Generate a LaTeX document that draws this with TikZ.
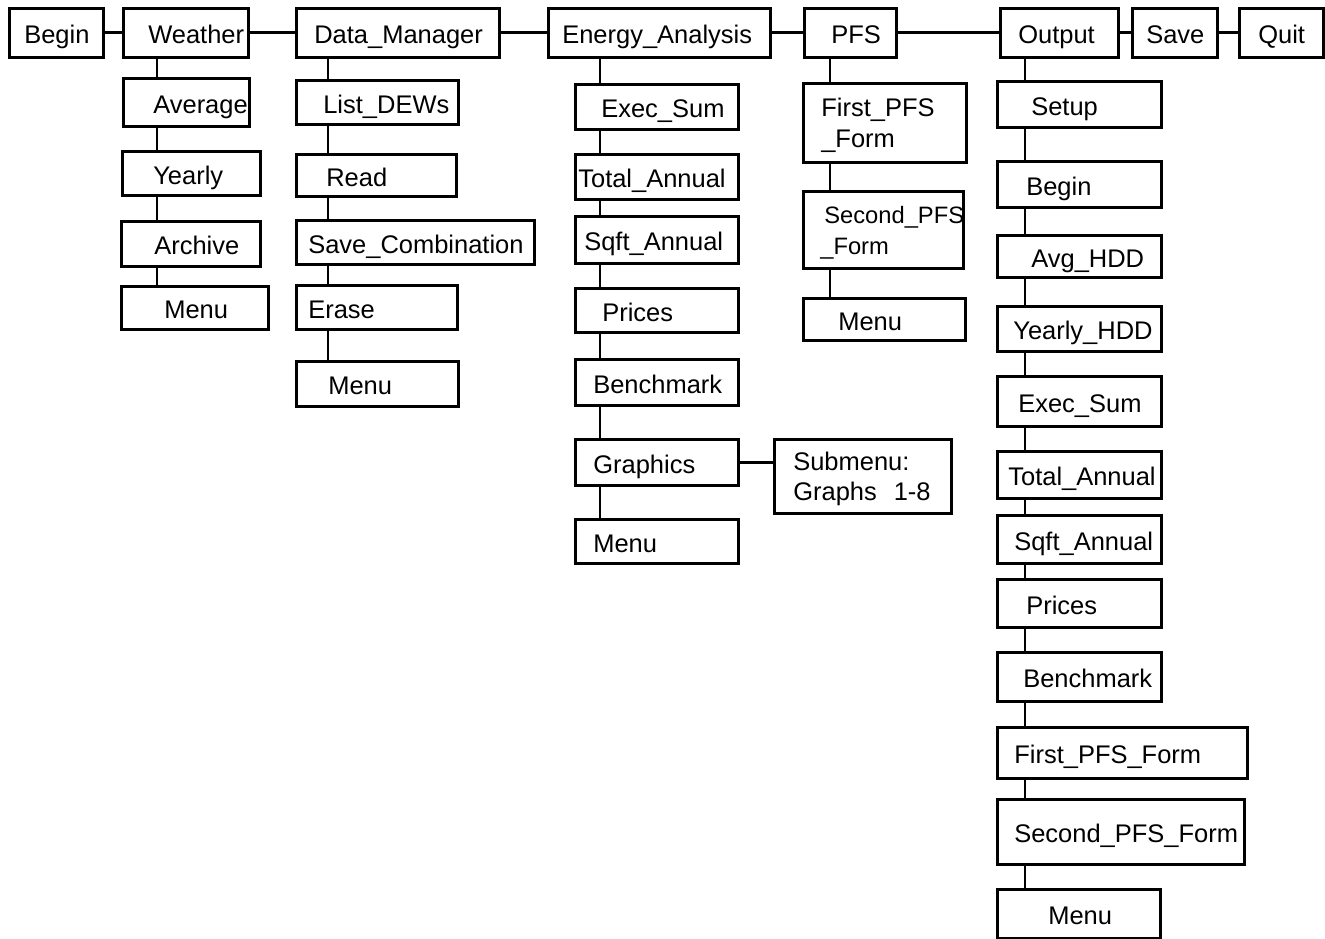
\documentclass[tikz,border=0pt]{standalone}
\usepackage{fontspec}
\setmainfont{Liberation Sans}

\newlength\px
\setlength\px{0.02cm}
\newcommand\boxind[1]{\hspace*{#1\px}}

\tikzset{
    menubox/.style={draw, line width=1.5pt, inner sep=0pt, anchor=north west,
        align=left, font=\fontsize{14.5}{17.5}\selectfont,
        text height=12.5pt, text depth=0pt},
    twolines/.style={text height=13.5pt, text depth=},
    boxdim/.code 2 args={%
        \pgfmathsetlengthmacro\mbw{#1*0.02cm}%
        \pgfmathsetlengthmacro\mbh{#2*0.02cm}%
        \edef\mbset{\noexpand\pgfkeysalso{minimum width=\mbw, minimum height=\mbh, text width=\mbw}}%
        \mbset},
    link/.style={line width=1.5pt}
}

\begin{document}
\begin{tikzpicture}[x=0.02cm, y=-0.02cm]
\useasboundingbox (0,0) rectangle (1325,939);

% main menu row
\node[menubox, boxdim={94}{49}]  (begin)   at (8,7)    {\boxind{15}Begin};
\node[menubox, boxdim={125}{49}] (weather) at (122,7)  {\boxind{25}Weather};
\node[menubox, boxdim={203}{49}] (dataman) at (295,7)  {\boxind{18}Data\_Manager};
\node[menubox, boxdim={222}{49}] (energy)  at (547,7)  {\boxind{14}Energy\_Analysis};
\node[menubox, boxdim={92}{49}]  (pfs)     at (803,7)  {\boxind{27}PFS};
\node[menubox, boxdim={118}{49}] (output)  at (999,7)  {\boxind{18}Output};
\node[menubox, boxdim={85}{49}]  (save)    at (1131,7) {\boxind{14}Save};
\node[menubox, boxdim={84}{49}]  (quit)    at (1238,7) {\boxind{19}Quit};

% Weather
\node[menubox, boxdim={126}{48}] (average) at (122,77)  {\boxind{30}Average};
\node[menubox, boxdim={138}{44}] (yearly)  at (121,150) {\boxind{31}Yearly};
\node[menubox, boxdim={139}{45}] (archive) at (120,220) {\boxind{33}Archive};
\node[menubox, boxdim={147}{43}] (wmenu)   at (120,285) {\boxind{43}Menu};

% Data_Manager
\node[menubox, boxdim={162}{44}] (listdews) at (295,79)  {\boxind{27}List\_DEWs};
\node[menubox, boxdim={160}{42}] (read)     at (295,153) {\boxind{30}Read};
\node[menubox, boxdim={238}{44}] (savecomb) at (295,219) {\boxind{12}Save\_Combination};
\node[menubox, boxdim={161}{44}] (erase)    at (295,284) {\boxind{12}Erase};
\node[menubox, boxdim={162}{45}] (dmenu)    at (295,360) {\boxind{32}Menu};

% Energy_Analysis
\node[menubox, boxdim={163}{45}] (eexec)   at (574,83)  {\boxind{26}Exec\_Sum};
\node[menubox, boxdim={163}{45}] (etotal)  at (574,153) {\boxind{3}Total\_Annual};
\node[menubox, boxdim={163}{47}] (esqft)   at (574,215) {\boxind{9}Sqft\_Annual};
\node[menubox, boxdim={163}{44}] (eprices) at (574,287) {\boxind{27}Prices};
\node[menubox, boxdim={163}{46}] (ebench)  at (574,358) {\boxind{18}Benchmark};
\node[menubox, boxdim={163}{46}] (egraph)  at (574,438) {\boxind{18}Graphics};
\node[menubox, boxdim={163}{44}] (emenu)   at (574,518) {\boxind{18}Menu};
\node[menubox, twolines, boxdim={177}{74}] (submenu) at (773,438)
    {\boxind{19}Submenu:\\\boxind{19}Graphs~~1-8};

% PFS
\node[menubox, twolines, boxdim={163}{79}] (pfirst) at (802,82)
    {\boxind{18}\mbox{First\_PFS}\\\boxind{18}\_Form};
\node[menubox, twolines, boxdim={160}{77}, font=\fontsize{13.5}{17.5}\selectfont] (psecond) at (802,190)
    {\boxind{21}\mbox{Second\_PFS}\\\boxind{17}\_Form};
\node[menubox, boxdim={162}{42}] (pmenu)   at (802,297) {\boxind{35}Menu};

% Output
\node[menubox, boxdim={164}{46}] (osetup)  at (996,80)  {\boxind{34}Setup};
\node[menubox, boxdim={164}{46}] (obegin)  at (996,160) {\boxind{29}Begin};
\node[menubox, boxdim={164}{42}] (oavg)    at (996,234) {\boxind{34}Avg\_HDD};
\node[menubox, boxdim={164}{45}] (oyearly) at (996,305) {\boxind{16}Yearly\_HDD};
\node[menubox, boxdim={164}{50}] (oexec)   at (996,375) {\boxind{21}Exec\_Sum};
\node[menubox, boxdim={164}{47}] (ototal)  at (996,450) {\boxind{11}Total\_Annual};
\node[menubox, boxdim={164}{48}] (osqft)   at (996,514) {\boxind{17}Sqft\_Annual};
\node[menubox, boxdim={164}{48}] (oprices) at (996,578) {\boxind{29}Prices};
\node[menubox, boxdim={164}{49}] (obench)  at (996,651) {\boxind{26}Benchmark};
\node[menubox, boxdim={250}{51}] (ofirst)  at (996,726) {\boxind{17}First\_PFS\_Form};
\node[menubox, boxdim={247}{65}] (osecond) at (996,798) {\boxind{17}Second\_PFS\_Form};
\node[menubox, boxdim={163}{49}] (omenu)   at (996,888) {\boxind{51}Menu};

% column lines
\coordinate (wcol) at (157,0);
\coordinate (dcol) at (328,0);
\coordinate (ecol) at (600,0);
\coordinate (pcol) at (830,0);
\coordinate (ocol) at (1025,0);

\foreach \a/\b in {begin/weather, weather/dataman, dataman/energy, energy/pfs,
                   pfs/output, output/save, save/quit}
    \draw[link] (\a.east) -- (\b.west);

\foreach \a/\b in {weather/average, average/yearly, yearly/archive, archive/wmenu}
    \draw[link] (\a.south -| wcol) -- (\b.north -| wcol);
\foreach \a/\b in {dataman/listdews, listdews/read, read/savecomb, savecomb/erase, erase/dmenu}
    \draw[link] (\a.south -| dcol) -- (\b.north -| dcol);
\foreach \a/\b in {energy/eexec, eexec/etotal, etotal/esqft, esqft/eprices,
                   eprices/ebench, ebench/egraph, egraph/emenu}
    \draw[link] (\a.south -| ecol) -- (\b.north -| ecol);
\foreach \a/\b in {pfs/pfirst, pfirst/psecond, psecond/pmenu}
    \draw[link] (\a.south -| pcol) -- (\b.north -| pcol);
\foreach \a/\b in {output/osetup, osetup/obegin, obegin/oavg, oavg/oyearly, oyearly/oexec,
                   oexec/ototal, ototal/osqft, osqft/oprices, oprices/obench,
                   obench/ofirst, ofirst/osecond, osecond/omenu}
    \draw[link] (\a.south -| ocol) -- (\b.north -| ocol);

\draw[link] (egraph.east) -- (egraph.east -| submenu.west);
\end{tikzpicture}
\end{document}
